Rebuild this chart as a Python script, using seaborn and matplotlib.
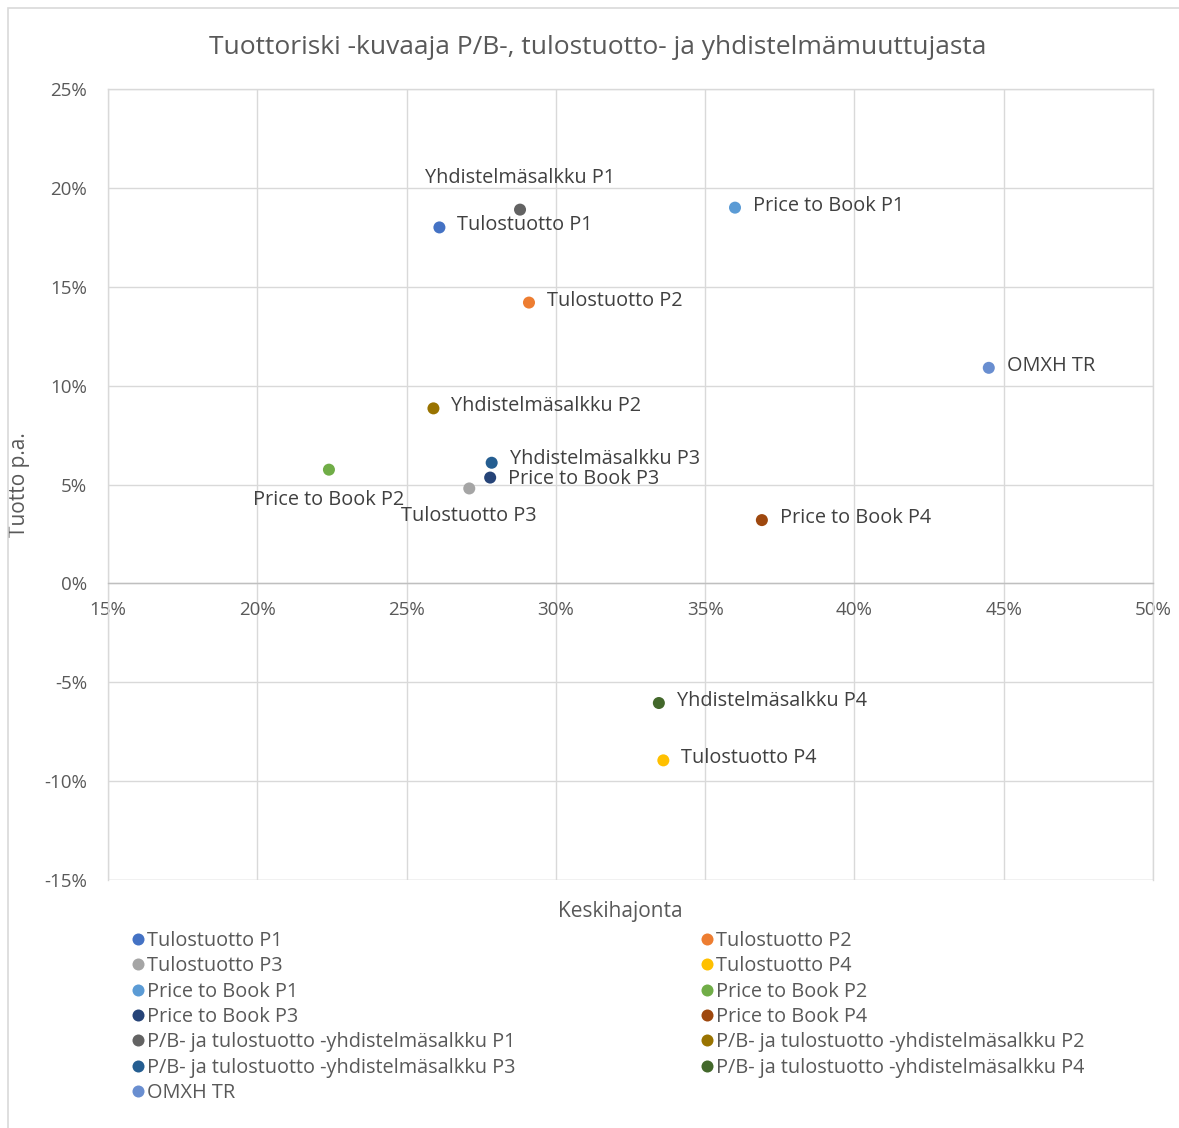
import numpy as np
import pandas as pd
import seaborn as sns
import matplotlib.pyplot as plt
from matplotlib.ticker import FuncFormatter, MultipleLocator
from matplotlib.patches import Rectangle

# sarjojen nimet (selite) ja datapisteiden lyhyet nimet
sarjat = ["Tulostuotto P1", "Tulostuotto P2", "Tulostuotto P3", "Tulostuotto P4",
          "Price to Book P1", "Price to Book P2", "Price to Book P3", "Price to Book P4",
          "P/B- ja tulostuotto -yhdistelmäsalkku P1", "P/B- ja tulostuotto -yhdistelmäsalkku P2",
          "P/B- ja tulostuotto -yhdistelmäsalkku P3", "P/B- ja tulostuotto -yhdistelmäsalkku P4",
          "OMXH TR"]
nimet = ["Tulostuotto P1", "Tulostuotto P2", "Tulostuotto P3", "Tulostuotto P4",
         "Price to Book P1", "Price to Book P2", "Price to Book P3", "Price to Book P4",
         "Yhdistelmäsalkku P1", "Yhdistelmäsalkku P2", "Yhdistelmäsalkku P3", "Yhdistelmäsalkku P4",
         "OMXH TR"]
keskihajonta = [26.1, 29.1, 27.1, 33.6, 36.0, 22.4, 27.8, 36.9, 28.8, 25.9, 27.85, 33.45, 44.5]
tuotto = [18.0, 14.2, 4.8, -8.95, 19.0, 5.75, 5.35, 3.2, 18.9, 8.85, 6.1, -6.05, 10.9]
varit = ["#4472C4", "#ED7D31", "#A5A5A5", "#FFC000", "#5B9BD5", "#70AD47", "#264478",
         "#9E480E", "#636363", "#997300", "#255E91", "#43682B", "#698ED0"]
# label placement: r = right, t = top, bl = below left, b = below
sijainti = ["r", "r", "b", "r", "r", "bl", "r", "r", "t", "r", "r", "r", "r"]

df = pd.DataFrame({"x": keskihajonta, "y": tuotto, "sarja": sarjat})

sns.set_style("white")
plt.rcParams['font.family'] = ['Open Sans', 'DejaVu Sans']

fig = plt.figure(figsize=(11.79, 11.28), dpi=100)
ax = fig.add_axes([108/1179, 1-880/1128, (1153-108)/1179, (880-89)/1128])

sns.scatterplot(data=df, x="x", y="y", hue="sarja", palette=varit, hue_order=sarjat,
                s=75, edgecolor="none", ax=ax, legend=True, zorder=3)

ax.set_xlim(15, 50)
ax.set_ylim(-15, 25)
ax.xaxis.set_major_locator(MultipleLocator(5))
ax.yaxis.set_major_locator(MultipleLocator(5))
pros = FuncFormatter(lambda v, p: f"{v:.0f}%")
ax.xaxis.set_major_formatter(pros)
ax.yaxis.set_major_formatter(pros)
ax.grid(True, color="#d9d9d9", linewidth=1)
ax.set_axisbelow(True)
ax.axhline(-15, color="#d9d9d9", linewidth=1, zorder=0.5)
for s in ax.spines.values():
    s.set_color("#d9d9d9")
    s.set_linewidth(1)
ax.spines['bottom'].set_position(('data', 0))
ax.spines['bottom'].set_color("#bfbfbf")
ax.tick_params(axis="both", length=0, labelsize=13.5, labelcolor="#595959")
ax.tick_params(axis="x", pad=13)
ax.tick_params(axis="y", pad=15)
ax.set_xlabel("")
ax.set_ylabel("Tuotto p.a.", fontsize=15, color="#595959", labelpad=10)
fig.text(620/1179, 1-911/1128, "Keskihajonta", ha="center", va="center",
         fontsize=15, color="#595959")
fig.text(598/1179, 1-47/1128, "Tuottoriski -kuvaaja P/B-, tulostuotto- ja yhdistelmämuuttujasta",
         ha="center", va="center", fontsize=19, color="#595959")

# datapisteiden nimet
for xv, yv, n, paikka in zip(keskihajonta, tuotto, nimet, sijainti):
    if paikka == "r":
        off, ha, va = (18, 2), "left", "center"
    elif paikka == "t":
        off, ha, va = (0, 32), "center", "center"
    elif paikka == "bl":
        off, ha, va = (0, -30), "center", "center"
    else:
        off, ha, va = (0, -28), "center", "center"
    if n == "Yhdistelmäsalkku P3":
        off = (18, 4)
    if n == "Price to Book P3":
        off = (18, -1)
    ax.annotate(n, (xv, yv), xytext=off, textcoords="offset pixels", ha=ha, va=va,
                fontsize=14.3, color="#404040")

# selite kahteen sarakkeeseen, rivit järjestyksessä
handles, labels = ax.get_legend_handles_labels()
order = list(range(0, 13, 2)) + list(range(1, 13, 2))
ax.legend([handles[i] for i in order], [labels[i] for i in order], ncol=2,
          loc="upper left", bbox_to_anchor=(119/1179, 1-921/1128), bbox_transform=fig.transFigure,
          frameon=False, fontsize=14.3, labelcolor="#595959", handletextpad=0.0,
          handlelength=0.9, labelspacing=0.27, columnspacing=9.2, borderpad=0,
          markerscale=1.0)

# kaavion reunus
fig.patches.append(Rectangle((8/1179, -0.01), 1.02, 1-8/1128 + 0.01, transform=fig.transFigure,
                             fill=False, edgecolor="#d9d9d9", linewidth=1.2))

fig.savefig("out.png", dpi=100)
